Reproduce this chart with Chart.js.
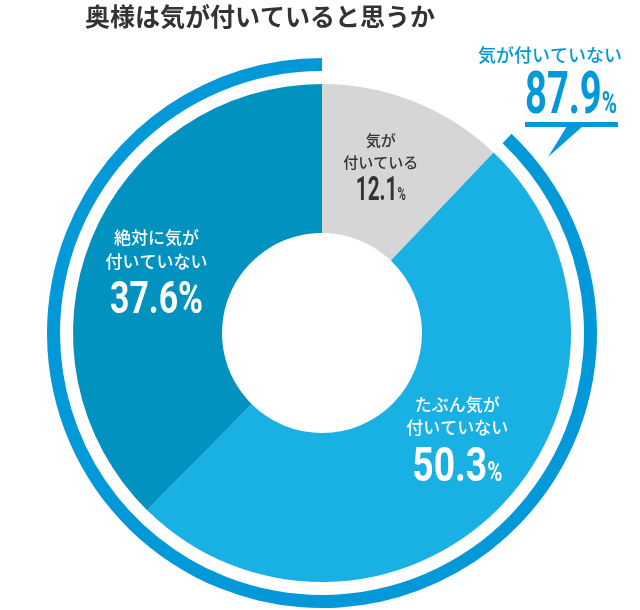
<!DOCTYPE html>
<html lang="ja">
<head>
<meta charset="utf-8">
<script src="https://cdn.jsdelivr.net/npm/chart.js@4.4.1/dist/chart.umd.min.js"></script>
<style>
    html, body { margin: 0; padding: 0; background: #fff; }
    #wrap { position: relative; width: 640px; height: 610px; }
</style>
</head>
<body>
<div id="wrap"><canvas id="awarenessChart" width="640" height="610"></canvas></div>
<script>
// --- Data ---
const chartTitle = '奥様は気が付いていると思うか';
const answerLabels = [['気が', '付いている'], ['たぶん気が', '付いていない'], ['絶対に気が', '付いていない']];
const answerValues = [12.1, 50.3, 37.6];
const ringLabel = '気が付いていない';
const ringValues = [12.1, 87.9]; // [気が付いている, 気が付いていない]

// --- Colours ---
const answerColors = ['#d6d6d6', '#19b0e3', '#0292bf'];
const answerTextColors = ['#333333', '#ffffff', '#ffffff'];
const ringColor = '#0398d8';
const jpFont = '"Noto Sans CJK JP", "Noto Sans", sans-serif';
const numFont = 'Roboto, "Liberation Sans", sans-serif';

// label layout per slice (shift from arc centre, line offsets, sizes, width of the number)
const labelStyles = [
    { dx: -6, dy: -5, textSize: 15, lineY: [-26, -4], numSize: 33, numY: 34, pctRatio: 0.55, numWidth: 50 },
    { dx: 10, dy: -16, textSize: 17, lineY: [-34, -11], numSize: 49, numY: 43, pctRatio: 0.55, numWidth: 90 },
    { dx: -4, dy: 4, textSize: 17, lineY: [-33, -9], numSize: 45, numY: 42, pctRatio: 1, numWidth: 93 }
];

// condensed number + % drawn centred at cx, squeezed to a given width
function drawNumber(ctx, value, cx, baseline, size, pctRatio, width, color) {
    const numText = value.toFixed(1);
    ctx.save();
    ctx.fillStyle = color;
    ctx.textAlign = 'left';
    ctx.textBaseline = 'alphabetic';
    ctx.font = `bold ${size}px ${numFont}`;
    const numW = ctx.measureText(numText).width;
    ctx.font = `bold ${Math.round(size * pctRatio)}px ${numFont}`;
    const pctW = ctx.measureText('%').width;
    const squeeze = width / (numW + pctW);
    ctx.translate(cx - width / 2, baseline);
    ctx.scale(squeeze, 1);
    ctx.font = `bold ${size}px ${numFont}`;
    ctx.fillText(numText, 0, 0);
    ctx.font = `bold ${Math.round(size * pctRatio)}px ${numFont}`;
    ctx.fillText('%', numW, 0);
    ctx.restore();
}

const labelPlugin = {
    id: 'answerLabels',
    afterDatasetsDraw(chart) {
        const ctx = chart.ctx;
        const meta = chart.getDatasetMeta(2);
        meta.data.forEach((arc, i) => {
            const pos = arc.tooltipPosition();
            const st = labelStyles[i];
            const cx = pos.x + st.dx;
            const cy = pos.y + st.dy;
            ctx.save();
            ctx.fillStyle = answerTextColors[i];
            ctx.textAlign = 'center';
            ctx.textBaseline = 'middle';
            ctx.font = `500 ${st.textSize}px ${jpFont}`;
            answerLabels[i].forEach((line, j) => ctx.fillText(line, cx, cy + st.lineY[j]));
            ctx.restore();
            drawNumber(ctx, answerValues[i], cx, cy + st.numY, st.numSize, st.pctRatio, st.numWidth, answerTextColors[i]);
        });
    }
};

// title and the callout for the outer ring
const annotationPlugin = {
    id: 'titleCallout',
    afterDraw(chart) {
        const ctx = chart.ctx;
        ctx.save();
        ctx.fillStyle = '#333333';
        ctx.textAlign = 'center';
        ctx.textBaseline = 'middle';
        ctx.font = `bold 25px ${jpFont}`;
        ctx.fillText(chartTitle, 260, 16);

        ctx.fillStyle = ringColor;
        ctx.font = `500 18px ${jpFont}`;
        ctx.fillText(ringLabel, 550, 55);
        ctx.restore();

        drawNumber(ctx, ringValues[1], 571, 113, 59, 0.55, 92, ringColor);

        ctx.save();
        ctx.fillStyle = ringColor;
        ctx.fillRect(525, 122, 93, 5);
        ctx.beginPath();
        ctx.moveTo(567, 126);
        ctx.lineTo(583, 126);
        ctx.lineTo(548, 157);
        ctx.closePath();
        ctx.fill();
        ctx.restore();
    }
};

const ctx = document.getElementById('awarenessChart').getContext('2d');
new Chart(ctx, {
    type: 'doughnut',
    data: {
        labels: answerLabels.map(l => l.join('')),
        datasets: [
            {
                label: ringLabel,
                data: ringValues,
                backgroundColor: ['rgba(0,0,0,0)', ringColor],
                weight: 13
            },
            {
                label: 'spacer',
                data: [1],
                backgroundColor: ['rgba(0,0,0,0)'],
                weight: 13
            },
            {
                label: chartTitle,
                data: answerValues,
                backgroundColor: answerColors,
                weight: 149
            }
        ]
    },
    options: {
        responsive: false,
        animation: false,
        cutout: 100,
        borderWidth: 0,
        hoverOffset: 0,
        layout: { padding: { left: 47, right: 43, top: 58, bottom: 2 } },
        elements: { arc: { borderWidth: 0, hoverOffset: 0 } },
        plugins: {
            legend: { display: false },
            tooltip: { enabled: false },
            title: { display: false }
        },
        events: []
    },
    plugins: [labelPlugin, annotationPlugin]
});
</script>
</body>
</html>
